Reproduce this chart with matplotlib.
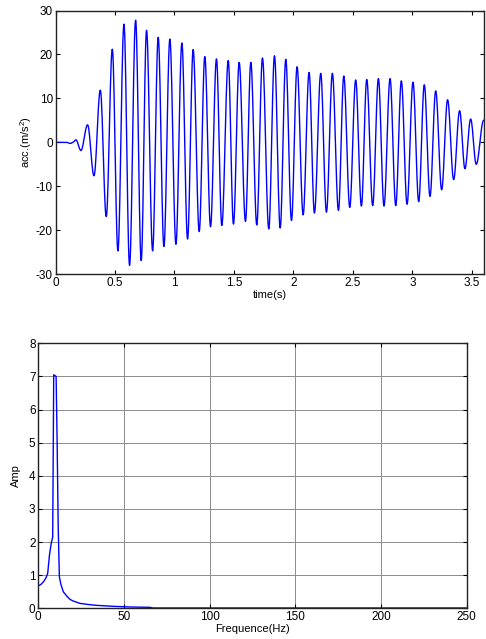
import numpy as np
import matplotlib
matplotlib.use("Agg")
import matplotlib.pyplot as plt

plt.rcParams['font.family'] = ['Liberation Sans', 'DejaVu Sans']
plt.rcParams['mathtext.fontset'] = 'custom'
plt.rcParams['mathtext.rm'] = 'Liberation Sans'
plt.rcParams['mathtext.it'] = 'Liberation Sans'
plt.rcParams['axes.unicode_minus'] = False

# ---- time signal: extrema (time in s, acc in m/s^2) ----
ext_t = [0.0, 0.09, 0.125, 0.145, 0.171, 0.213, 0.269, 0.323, 0.376, 0.426, 0.477, 0.524,
         0.575, 0.622, 0.673, 0.720, 0.765, 0.816, 0.863, 0.911, 0.961, 1.012,
         1.062, 1.110, 1.157, 1.208, 1.255, 1.303, 1.353, 1.398, 1.452, 1.496,
         1.544, 1.597, 1.642, 1.692, 1.740, 1.793, 1.841, 1.889, 1.936, 1.984,
         2.031, 2.082, 2.132, 2.177, 2.230, 2.278, 2.328, 2.379, 2.424, 2.474,
         2.524, 2.572, 2.617, 2.667, 2.715, 2.762, 2.813, 2.861, 2.908, 2.956,
         3.006, 3.054, 3.101, 3.149, 3.197, 3.247, 3.297, 3.348, 3.398, 3.443,
         3.491, 3.538, 3.600]
ext_v = [0.0, 0.0, -0.25, 0.0, 0.57, -1.86, 3.98, -7.62, 11.88, -16.9, 21.2, -24.7,
         26.9, -28.0, 27.8, -26.9, 25.5, -24.7, 23.9, -23.7, 23.5, -23.2,
         22.6, -22.0, 21.1, -20.3, 19.5, -19.2, 19.0, -18.9, 18.6, -18.6,
         18.2, -18.0, 18.2, -18.8, 19.2, -19.7, 19.7, -19.5, 18.9, -17.8,
         17.2, -16.5, 15.9, -16.1, 15.7, -15.9, 15.7, -15.5, 15.1, -14.8,
         14.2, -14.5, 14.3, -14.4, 14.5, -14.5, 14.5, -14.4, 14.0, -14.1,
         13.7, -13.5, 13.1, -12.3, 11.7, -10.8, 9.7, -8.5, 7.2, -6.0,
         5.3, -5.0, 5.0]

# ---- amplitude spectrum ----
freq = [0, 1.5, 3, 4.5, 5.5, 6.5, 7.5, 8.4, 9.0, 9.6, 10.4, 11.0, 11.6, 12.3, 13.2,
        14.6, 16.6, 18.5, 20.4, 24.3, 30, 34, 44, 54, 65, 67, 250]
amp = [0.68, 0.72, 0.80, 0.92, 1.06, 1.6, 1.95, 2.15, 7.05, 7.03, 7.0, 5.0, 2.5, 0.95, 0.72,
       0.5, 0.37, 0.27, 0.22, 0.15, 0.11, 0.09, 0.06, 0.04, 0.03, 0.01, 0.01]

top_xticks = [0, 0.5, 1, 1.5, 2, 2.5, 3, 3.5]
top_xticklabels = ['0', '0.5', '1', '1.5', '2', '2.5', '3', '3.5']
top_yticks = [-30, -20, -10, 0, 10, 20, 30]
bot_xticks = [0, 50, 100, 150, 200, 250]
bot_yticks = [0, 1, 2, 3, 4, 5, 6, 7, 8]

# smooth half-cosine rendering between consecutive extrema
tt, vv = [], []
for i in range(len(ext_t) - 1):
    s = np.linspace(0, 1, 16, endpoint=False)
    tt.append(ext_t[i] + s * (ext_t[i + 1] - ext_t[i]))
    vv.append(ext_v[i] + (ext_v[i + 1] - ext_v[i]) * (1 - np.cos(np.pi * s)) / 2)
tt.append([ext_t[-1]]); vv.append([ext_v[-1]])
tt = np.concatenate(tt); vv = np.concatenate(vv)

fig = plt.figure(figsize=(4.86, 6.39), dpi=100)
fs = 8.5
lfs = 8

def style(ax):
    ax.tick_params(direction='in', length=3, width=0.8, top=True, right=True,
                   labelsize=fs, pad=2, colors='black')
    for sp in ax.spines.values():
        sp.set_linewidth(1.0)
        sp.set_color('#222222')

ax1 = fig.add_axes([0.1144, 0.5710, 0.8807, 0.4125])
ax1.plot(tt, vv, color='#0000FF', lw=1.0)
ax1.set_xlim(0, 3.6)
ax1.set_ylim(-30, 30)
ax1.set_xticks(top_xticks)
ax1.set_xticklabels(top_xticklabels)
ax1.set_yticks(top_yticks)
ax1.set_xlabel('time(s)', fontsize=lfs, labelpad=1)
ax1.set_ylabel('acc.(m/s$^2$)', fontsize=lfs, labelpad=1)
style(ax1)

ax2 = fig.add_axes([0.0788, 0.0480, 0.8815, 0.4147])
ax2.plot(freq, amp, color='#0000FF', lw=1.0)
ax2.set_xlim(0, 250)
ax2.set_ylim(0, 8)
ax2.set_xticks(bot_xticks)
ax2.set_yticks(bot_yticks)
ax2.grid(True, color='#8c8c8c', lw=0.7)
ax2.set_axisbelow(True)
ax2.set_xlabel('Frequence(Hz)', fontsize=lfs, labelpad=1)
ax2.set_ylabel('Amp', fontsize=lfs, labelpad=6)
style(ax2)

fig.savefig('out.png', dpi=100)
